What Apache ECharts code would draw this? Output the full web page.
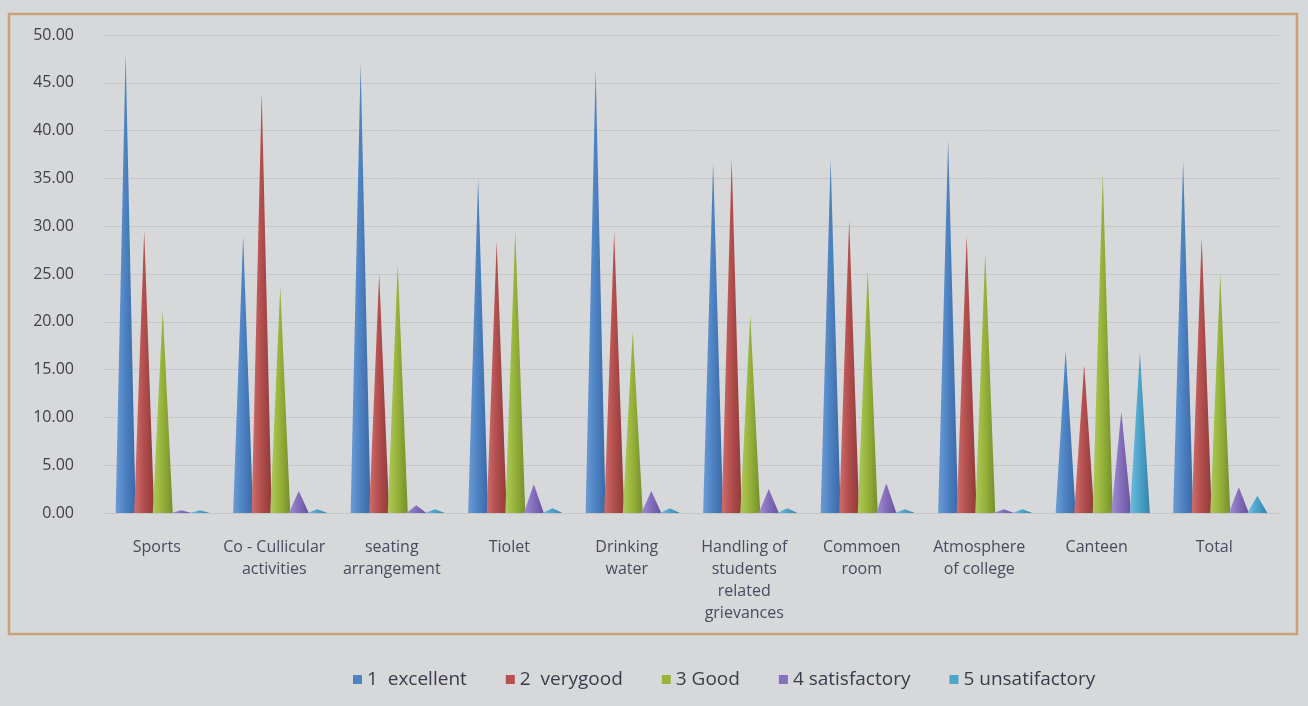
<!DOCTYPE html>
<html>
<head>
<meta charset="utf-8">
<script src="https://cdn.jsdelivr.net/npm/echarts@6/dist/echarts.min.js"></script>
<style>
  html, body { margin: 0; padding: 0; background: #d7d8da; }
  #chart { width: 1308px; height: 706px; }
</style>
</head>
<body>
<div id="chart"></div>
<script>
// Facility ratings (% of respondents) per item
const categories = [
  'Sports', 'Co - Cullicular\nactivities', 'seating\narrangement', 'Tiolet',
  'Drinking\nwater', 'Handling of\nstudents\nrelated\ngrievances', 'Commoen\nroom',
  'Atmosphere\nof college', 'Canteen', 'Total'
];
const seriesNames = ['1  excellent', '2  verygood', '3 Good', '4 satisfactory', '5 unsatifactory'];
const excellent      = [48.0, 29.0, 47.0, 35.0, 46.4, 36.7, 37.0, 39.0, 17.0, 36.8];
const verygood       = [29.5, 44.0, 25.0, 28.4, 29.4, 37.0, 30.6, 29.0, 15.5, 28.8];
const good           = [21.2, 23.7, 26.0, 29.5, 19.0, 20.7, 25.4, 27.2, 35.5, 25.0];
const satisfactory   = [0.3, 2.3, 0.8, 3.0, 2.3, 2.5, 3.1, 0.4, 10.6, 2.7];
const unsatisfactory = [0.3, 0.4, 0.4, 0.5, 0.5, 0.5, 0.4, 0.4, 16.8, 1.8];
const yTicks = { min: 0, max: 50, interval: 5 };

const palette = [
  ['#6a9bd6', '#4f84c4', '#3a68a6'],
  ['#cc6f6d', '#b5504f', '#8f3a3a'],
  ['#b0c95a', '#98b43c', '#74902a'],
  ['#a08ed2', '#8670bd', '#66529c'],
  ['#72bde0', '#4ea5cc', '#3683a8']
];
const values = [excellent, verygood, good, satisfactory, unsatisfactory];

function coneFill(c) {
  return new echarts.graphic.LinearGradient(0, 0, 1, 0, [
    { offset: 0, color: c[0] },
    { offset: 0.45, color: c[1] },
    { offset: 1, color: c[2] }
  ]);
}

const chart = echarts.init(document.getElementById('chart'), null, { renderer: 'canvas' });

chart.setOption({
  backgroundColor: '#d7d8da',
  animation: false,
  color: palette.map(p => p[1]),
  graphic: [{
    type: 'rect',
    shape: { x: 9, y: 14, width: 1288, height: 620 },
    style: { fill: 'none', stroke: '#c9a27a', lineWidth: 2.5 },
    z: -1
  }],
  grid: { left: 104, right: 29, top: 35, bottom: 193 },
  legend: {
    left: 348,
    top: 665,
    itemWidth: 9,
    itemHeight: 9,
    itemGap: 39,
    icon: 'rect',
    textStyle: { fontFamily: 'Open Sans', fontSize: 19, color: '#3b3b4c' },
    data: seriesNames.map((name, i) => ({ name, itemStyle: { color: palette[i][1] } }))
  },
  xAxis: {
    type: 'category',
    data: categories,
    axisLine: { show: false },
    axisTick: { show: false },
    axisLabel: {
      interval: 0,
      margin: 23,
      fontFamily: 'Open Sans',
      fontSize: 16,
      lineHeight: 22,
      color: '#4a4a5e',
      padding: [0, 12, 0, 0]
    }
  },
  yAxis: {
    type: 'value',
    min: yTicks.min,
    max: yTicks.max,
    interval: yTicks.interval,
    axisLine: { show: false },
    axisTick: { show: false },
    axisLabel: {
      margin: 30,
      fontFamily: 'Open Sans',
      fontSize: 16,
      color: '#404048',
      formatter: v => v.toFixed(2)
    },
    splitLine: { lineStyle: { color: '#c6c7ca', width: 1 } }
  },
  series: seriesNames.map((name, i) => ({
    name,
    type: 'pictorialBar',
    symbol: 'triangle',
    symbolSize: [20, '100%'],
    barGap: '0%',
    barCategoryGap: '21%',
    itemStyle: { color: coneFill(palette[i]) },
    data: values[i]
  }))
});
</script>
</body>
</html>
